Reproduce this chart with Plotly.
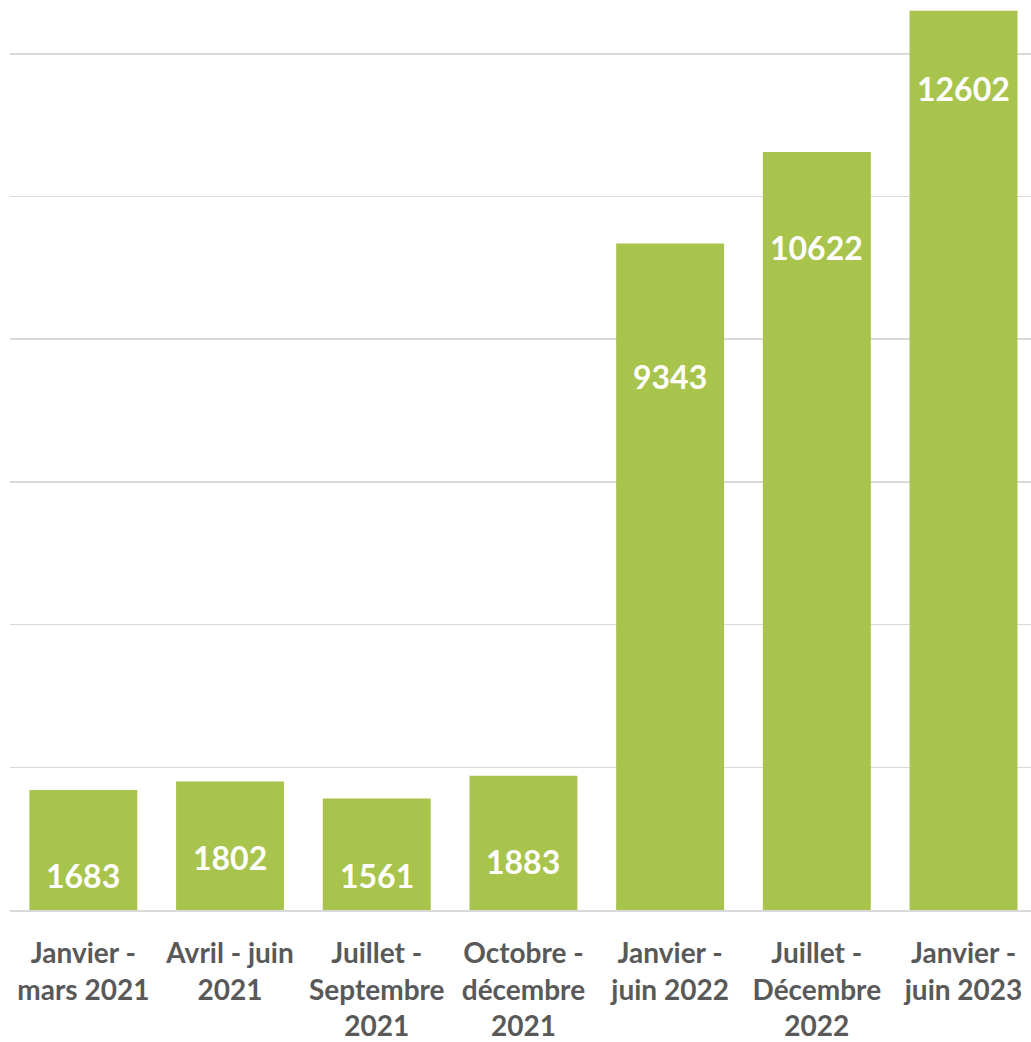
import plotly.graph_objects as go

categories = [
    "Janvier -<br>mars 2021",
    "Avril - juin<br>2021",
    "Juillet -<br>Septembre<br>2021",
    "Octobre -<br>décembre<br>2021",
    "Janvier -<br>juin 2022",
    "Juillet -<br>Décembre<br>2022",
    "Janvier -<br>juin 2023",
]
values = [1683, 1802, 1561, 1883, 9343, 10622, 12602]
# heights (in data units) where the manually placed labels sit
label_heights = [490, 729, 490, 673, 7484, 9292, 11507]

BAR = "#A9C44C"
FONT = "Lato, Calibri, Carlito, sans-serif"

fig = go.Figure()
fig.add_trace(go.Bar(x=list(range(len(categories))), y=values,
                     marker_color=BAR, marker_line_width=0, hoverinfo="skip"))

for i, (v, h) in enumerate(zip(values, label_heights)):
    fig.add_annotation(x=i, y=h, text=f"<b>{v}</b>", showarrow=False,
                       font=dict(family=FONT, size=32, color="white"),
                       xanchor="center", yanchor="middle")

fig.update_layout(
    width=1031, height=1042,
    margin=dict(l=10, r=0, t=5, b=132),
    plot_bgcolor="white", paper_bgcolor="white",
    bargap=0.264,
    showlegend=False,
    font=dict(family=FONT),
)
fig.update_xaxes(
    range=[-0.5, 6.46],
    tickmode="array",
    tickvals=list(range(len(categories))),
    ticktext=[f"<b>{c}</b>" for c in categories],
    tickfont=dict(family=FONT, size=28, color="#595959"),
    showline=True, linecolor="#D9D9D9", linewidth=1.5,
    ticks="", showgrid=False, automargin=False,
    ticklabelstandoff=18,
)
fig.update_yaxes(
    range=[0, 12684], dtick=2000, showticklabels=False,
    showgrid=True, gridcolor="#D9D9D9", gridwidth=1.5,
    zeroline=False, showline=False, automargin=False,
)
fig.write_html("out.html",
               config={"displayModeBar": False, "staticPlot": True},
               post_script="document.body.style.margin='0';document.body.style.overflow='hidden';")
